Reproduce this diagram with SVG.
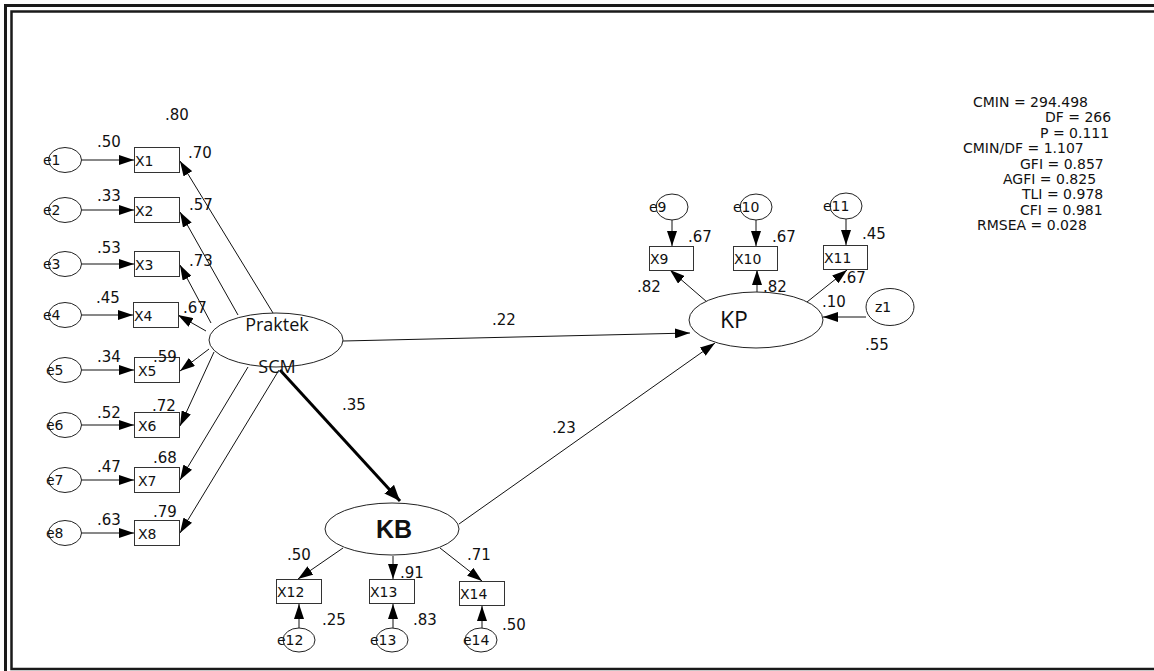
<svg xmlns="http://www.w3.org/2000/svg" width="1154" height="671" viewBox="0 0 1154 671">
<style>
.bg{fill:#fff}
.frame{fill:none;stroke:#1a1a1a}
.lat{fill:#fff;stroke:#222;stroke-width:1}
.err{fill:#fff;stroke:#222;stroke-width:1}
.box{fill:#fff;stroke:#333;stroke-width:1}
.c{fill:none;stroke:#111;stroke-width:1;marker-end:url(#arr)}
.ct{fill:none;stroke:#000;stroke-width:3;marker-end:url(#arrT)}
.lbl{font-family:"DejaVu Sans",sans-serif;font-size:15px;fill:#111}
.st{font-family:"DejaVu Sans",sans-serif;font-size:14px;fill:#111}
.sm{font-family:"DejaVu Sans",sans-serif;font-size:14px;fill:#111}
.os{font-family:"Open Sans",sans-serif;fill:#111}
.kb{font-family:"Liberation Sans",Arial,sans-serif;font-weight:bold;font-size:25px;fill:#111}
</style>
<defs>
<marker id="arr" viewBox="0 0 15 10" refX="15" refY="5" markerWidth="15" markerHeight="10" markerUnits="userSpaceOnUse" orient="auto"><path d="M0,0 L15,5 L0,10 z" fill="#000"/></marker>
<marker id="arrT" viewBox="0 0 16 13" refX="16" refY="6.5" markerWidth="16" markerHeight="13" markerUnits="userSpaceOnUse" orient="auto"><path d="M0,0 L16,6.5 L0,13 z" fill="#000"/></marker>
</defs>
<rect class="bg" x="0" y="0" width="1154" height="671"/>
<g id="frame">
<path class="frame" stroke-width="3" d="M5.5,671 V5.5 H1154"/>
<path class="frame" stroke-width="2.5" d="M1154,11.5 H11.5 V669 H1154"/>
</g>

<g id="connectors">
<line class="c" x1="81" y1="160" x2="134" y2="160"/>
<line class="c" x1="81" y1="210" x2="134" y2="210"/>
<line class="c" x1="81" y1="264" x2="134" y2="264"/>
<line class="c" x1="81" y1="315" x2="133" y2="315"/>
<line class="c" x1="81" y1="370" x2="134" y2="370"/>
<line class="c" x1="81" y1="425" x2="134" y2="425"/>
<line class="c" x1="81" y1="480" x2="134" y2="480"/>
<line class="c" x1="81" y1="533" x2="134" y2="533"/>
<line class="c" x1="273" y1="313" x2="180" y2="161"/>
<line class="c" x1="238" y1="315" x2="180" y2="212"/>
<line class="c" x1="211" y1="323" x2="180" y2="265"/>
<line class="c" x1="206" y1="331" x2="178" y2="315"/>
<line class="c" x1="209" y1="349" x2="180" y2="371"/>
<line class="c" x1="214" y1="352" x2="180" y2="426"/>
<line class="c" x1="248" y1="367" x2="180" y2="480"/>
<line class="c" x1="279" y1="370" x2="180" y2="533"/>
<line class="ct" x1="280" y1="370" x2="400" y2="501"/>
<line class="c" x1="343" y1="341" x2="690" y2="333"/>
<line class="c" x1="459" y1="524" x2="715" y2="343"/>
<line class="c" x1="343" y1="548" x2="298" y2="579"/>
<line class="c" x1="393" y1="556" x2="393" y2="579"/>
<line class="c" x1="440" y1="548" x2="482" y2="581"/>
<line class="c" x1="299" y1="628" x2="299" y2="604"/>
<line class="c" x1="393" y1="628" x2="393" y2="604"/>
<line class="c" x1="482" y1="628" x2="482" y2="606"/>
<line class="c" x1="707" y1="302" x2="670" y2="270"/>
<line class="c" x1="757" y1="292" x2="757" y2="270"/>
<line class="c" x1="807" y1="302" x2="847" y2="270"/>
<line class="c" x1="672" y1="220" x2="672" y2="246"/>
<line class="c" x1="756" y1="220" x2="756" y2="246"/>
<line class="c" x1="846" y1="219" x2="846" y2="245"/>
<line class="c" x1="866" y1="317" x2="823" y2="317"/>
</g>

<g id="e1"><ellipse class="err" cx="65" cy="160" rx="16.5" ry="12.5"/><text class="sm" x="43" y="165">e1</text></g>
<g id="e2"><ellipse class="err" cx="65" cy="210" rx="16.5" ry="12.5"/><text class="sm" x="43" y="215">e2</text></g>
<g id="e3"><ellipse class="err" cx="65" cy="264" rx="16.5" ry="12.5"/><text class="sm" x="43" y="269">e3</text></g>
<g id="e4"><ellipse class="err" cx="65" cy="315" rx="16.5" ry="12.5"/><text class="sm" x="43" y="320">e4</text></g>
<g id="e5"><ellipse class="err" cx="65" cy="370" rx="16.5" ry="12.5"/><text class="sm" x="46" y="375">e5</text></g>
<g id="e6"><ellipse class="err" cx="65" cy="425" rx="16.5" ry="12.5"/><text class="sm" x="46" y="430">e6</text></g>
<g id="e7"><ellipse class="err" cx="65" cy="480" rx="16.5" ry="12.5"/><text class="sm" x="46" y="485">e7</text></g>
<g id="e8"><ellipse class="err" cx="65" cy="533" rx="16.5" ry="12.5"/><text class="sm" x="46" y="538">e8</text></g>

<g id="X1"><rect class="box" x="134.5" y="147.5" width="45" height="25"/><text class="sm" x="135" y="166">X1</text></g>
<g id="X2"><rect class="box" x="134.5" y="197.5" width="45" height="25"/><text class="sm" x="135" y="216">X2</text></g>
<g id="X3"><rect class="box" x="134.5" y="251.5" width="45" height="25"/><text class="sm" x="135" y="270">X3</text></g>
<g id="X4"><rect class="box" x="133.5" y="302.5" width="45" height="25"/><text class="sm" x="134" y="321">X4</text></g>
<g id="X5"><rect class="box" x="134.5" y="357.5" width="45" height="25"/><text class="sm" x="138" y="376">X5</text></g>
<g id="X6"><rect class="box" x="134.5" y="412.5" width="45" height="25"/><text class="sm" x="138" y="431">X6</text></g>
<g id="X7"><rect class="box" x="134.5" y="467.5" width="45" height="25"/><text class="sm" x="138" y="486">X7</text></g>
<g id="X8"><rect class="box" x="134.5" y="520.5" width="45" height="25"/><text class="sm" x="138" y="539">X8</text></g>

<g id="PraktekSCM"><ellipse class="lat" cx="276" cy="340" rx="67" ry="27"/><text class="os" font-size="18" x="277" y="331" text-anchor="middle">Praktek</text><text class="os" font-size="18" x="277" y="373" text-anchor="middle">SCM</text></g>

<g id="KB"><ellipse class="lat" cx="392" cy="529" rx="67" ry="26"/><text class="kb" x="394" y="538" text-anchor="middle">KB</text></g>
<g id="X12"><rect class="box" x="276.5" y="579.5" width="45" height="24"/><text class="sm" x="277" y="597">X12</text></g>
<g id="X13"><rect class="box" x="369.5" y="579.5" width="45" height="24"/><text class="sm" x="370" y="597">X13</text></g>
<g id="X14"><rect class="box" x="459.5" y="581.5" width="45" height="24"/><text class="sm" x="460" y="599">X14</text></g>
<g id="e12"><ellipse class="err" cx="299" cy="640" rx="16" ry="12"/><text class="sm" x="277" y="645">e12</text></g>
<g id="e13"><ellipse class="err" cx="392" cy="640" rx="16" ry="12"/><text class="sm" x="370" y="645">e13</text></g>
<g id="e14"><ellipse class="err" cx="481" cy="640" rx="16" ry="12"/><text class="sm" x="463" y="645">e14</text></g>

<g id="KP"><ellipse class="lat" cx="756" cy="320" rx="67" ry="28"/><text class="os" font-size="23" x="734" y="328" text-anchor="middle">KP</text></g>
<g id="X9"><rect class="box" x="649.5" y="246.5" width="44" height="24"/><text class="sm" x="650" y="264">X9</text></g>
<g id="X10"><rect class="box" x="733.5" y="246.5" width="44" height="24"/><text class="sm" x="734" y="264">X10</text></g>
<g id="X11"><rect class="box" x="823.5" y="245.5" width="44" height="24"/><text class="sm" x="824" y="263">X11</text></g>
<g id="e9"><ellipse class="err" cx="672" cy="207" rx="16" ry="13"/><text class="sm" x="649" y="212">e9</text></g>
<g id="e10"><ellipse class="err" cx="756" cy="207" rx="16" ry="13"/><text class="sm" x="733" y="212">e10</text></g>
<g id="e11"><ellipse class="err" cx="846" cy="206" rx="16" ry="13"/><text class="sm" x="823" y="211">e11</text></g>
<g id="z1"><ellipse class="err" cx="890" cy="307" rx="24" ry="18.5"/><text class="sm" x="875" y="312">z1</text></g>

<g id="labels">
<text class="lbl" x="165" y="120">.80</text>
<text class="lbl" x="97" y="147">.50</text>
<text class="lbl" x="97" y="201">.33</text>
<text class="lbl" x="97" y="253">.53</text>
<text class="lbl" x="96" y="303">.45</text>
<text class="lbl" x="97" y="362">.34</text>
<text class="lbl" x="97" y="418">.52</text>
<text class="lbl" x="97" y="472">.47</text>
<text class="lbl" x="97" y="525">.63</text>
<text class="lbl" x="188" y="158">.70</text>
<text class="lbl" x="189" y="210">.57</text>
<text class="lbl" x="189" y="266">.73</text>
<text class="lbl" x="183" y="313">.67</text>
<text class="lbl" x="153" y="362">.59</text>
<text class="lbl" x="152" y="411">.72</text>
<text class="lbl" x="153" y="463">.68</text>
<text class="lbl" x="153" y="517">.79</text>
<text class="lbl" x="342" y="410">.35</text>
<text class="lbl" x="492" y="325">.22</text>
<text class="lbl" x="552" y="433">.23</text>
<text class="lbl" x="287" y="560">.50</text>
<text class="lbl" x="400" y="578">.91</text>
<text class="lbl" x="467" y="560">.71</text>
<text class="lbl" x="322" y="625">.25</text>
<text class="lbl" x="413" y="625">.83</text>
<text class="lbl" x="502" y="630">.50</text>
<text class="lbl" x="688" y="242">.67</text>
<text class="lbl" x="772" y="242">.67</text>
<text class="lbl" x="862" y="239">.45</text>
<text class="lbl" x="637" y="292">.82</text>
<text class="lbl" x="763" y="292">.82</text>
<text class="lbl" x="842" y="283">.67</text>
<text class="lbl" x="822" y="307">.10</text>
<text class="lbl" x="865" y="350">.55</text>
</g>

<g id="fit">
<text class="st" x="973" y="107">CMIN = 294.498</text>
<text class="st" x="1045" y="122">DF = 266</text>
<text class="st" x="1040" y="137.5">P = 0.111</text>
<text class="st" x="963" y="153">CMIN/DF = 1.107</text>
<text class="st" x="1020" y="168.5">GFI = 0.857</text>
<text class="st" x="1003" y="184">AGFI = 0.825</text>
<text class="st" x="1022" y="199">TLI = 0.978</text>
<text class="st" x="1020" y="214.5">CFI = 0.981</text>
<text class="st" x="977" y="230">RMSEA = 0.028</text>
</g>
</svg>
